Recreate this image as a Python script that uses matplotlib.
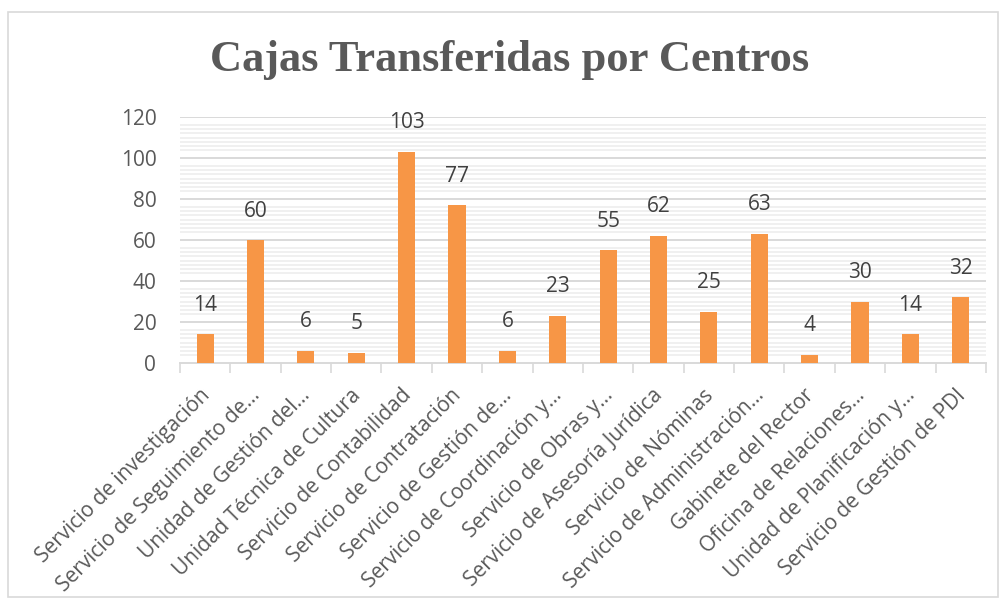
import matplotlib.pyplot as plt
from matplotlib.patches import Rectangle
from matplotlib.transforms import ScaledTranslation

centros = [
    "Servicio de investigación",
    "Servicio de Seguimiento de…",
    "Unidad de Gestión del…",
    "Unidad Técnica de Cultura",
    "Servicio de Contabilidad",
    "Servicio de Contratación",
    "Servicio de Gestión de…",
    "Servicio de Coordinación y…",
    "Servicio de Obras y…",
    "Servicio de Asesoría Jurídica",
    "Servicio de Nóminas",
    "Servicio de Administración…",
    "Gabinete del Rector",
    "Oficina de Relaciones…",
    "Unidad de Planificación y…",
    "Servicio de Gestión de PDI",
]
cajas = [14, 60, 6, 5, 103, 77, 6, 23, 55, 62, 25, 63, 4, 30, 14, 32]
y_ticks = [0, 20, 40, 60, 80, 100, 120]

gris = "#595959"
naranja = "#f79646"

fig = plt.figure(figsize=(10.02, 6.01), dpi=100)
fig.patches.append(Rectangle((8 / 1002, 4 / 601), 990 / 1002, 585 / 601,
                             transform=fig.transFigure, fill=False,
                             edgecolor="#d9d9d9", lw=1.2))

ax = fig.add_axes([0.1796, 0.396, 0.8044, 0.4093])
x = list(range(len(cajas)))

# faint "shadow" lines between the main gridlines
for v in range(0, 121, 2):
    if v % 20 not in (0, 18, 2):
        ax.axhline(v, color="#efefef", lw=1.3, zorder=0)
for v in y_ticks[1:]:
    ax.axhline(v, color="#d9d9d9", lw=1.4, zorder=1)

ax.bar(x, cajas, width=0.34, color=naranja, zorder=3)
for xi, v in zip(x, cajas):
    ax.text(xi, v + 9, str(v), ha="center", va="bottom", fontsize=15,
            color="#404040", family="Open Sans")

ax.set_xlim(-0.5, len(cajas) - 0.5)
ax.set_ylim(0, 120)
ax.set_yticks(y_ticks)
ax.set_yticklabels([str(t) for t in y_ticks], fontsize=15, color=gris,
                   family="Open Sans")
ax.tick_params(axis="y", length=0, pad=17)

ax.set_xticks(x)
ax.set_xticklabels(centros, rotation=45, ha="right", va="top",
                   rotation_mode="anchor", fontsize=15, color=gris,
                   family="Open Sans")
ax.tick_params(axis="x", length=0, pad=18)
shift = ScaledTranslation(-6 / 100, 3 / 100, fig.dpi_scale_trans)
for lbl in ax.get_xticklabels():
    lbl.set_transform(lbl.get_transform() + shift)
# tick marks between categories
ax.set_xticks([i - 0.5 for i in range(len(cajas) + 1)], minor=True)
ax.tick_params(axis="x", which="minor", length=7, color="#d9d9d9", width=1.2)

for s in ["top", "right", "left"]:
    ax.spines[s].set_visible(False)
ax.spines["bottom"].set_color("#d9d9d9")
ax.spines["bottom"].set_linewidth(1.4)

fig.text(0.509, 0.9, "Cajas Transferidas por Centros", ha="center",
         va="center", fontsize=32, fontweight="bold", color=gris,
         family="Liberation Serif")

fig.savefig("out.png", dpi=100)
